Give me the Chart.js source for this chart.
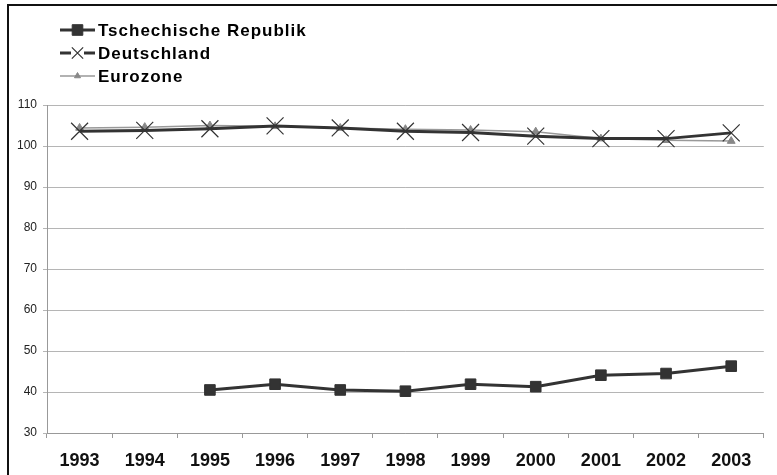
<!DOCTYPE html>
<html><head><meta charset="utf-8">
<script src="https://cdn.jsdelivr.net/npm/chart.js@4/dist/chart.umd.min.js"></script>
<style>html,body{margin:0;padding:0;background:#fff}#wrap{width:777px;height:475px;position:relative}canvas{display:block}</style>
</head><body><div id="wrap"><canvas id="c" width="777" height="475"></canvas></div>
<script>
const years = ['1993','1994','1995','1996','1997','1998','1999','2000','2001','2002','2003'];
const seriesNames = ['Tschechische Republik','Deutschland','Eurozone'];
const czech = [null,null,40.5,41.9,40.5,40.2,41.9,41.3,44.1,44.5,46.3];
const germany = [103.6,103.8,104.2,104.9,104.4,103.6,103.3,102.4,101.8,101.8,103.2];
const eurozone = [104.4,104.6,105.0,104.8,104.4,104.1,103.9,103.5,101.8,101.4,101.2];
const yMin = 30, yMax = 110, yStep = 10;

const FONT = 'Liberation Sans, Arial, Helvetica, sans-serif';

function drawMarker(ctx, style, x, y, r, color, fill, bw){
  ctx.save();
  ctx.strokeStyle = color; ctx.fillStyle = fill; ctx.lineWidth = bw;
  ctx.beginPath();
  if(style==='rect'){
    const s = Math.SQRT1_2*r;
    ctx.rect(x-s,y-s,2*s,2*s); ctx.fill(); ctx.stroke();
  } else if(style==='crossRot'){
    const o = Math.SQRT1_2*r;
    ctx.moveTo(x-o,y-o); ctx.lineTo(x+o,y+o);
    ctx.moveTo(x-o,y+o); ctx.lineTo(x+o,y-o); ctx.stroke();
  } else if(style==='triangle'){
    ctx.moveTo(x, y-r); ctx.lineTo(x+r*0.866, y+r*0.5); ctx.lineTo(x-r*0.866, y+r*0.5);
    ctx.closePath(); ctx.fill(); ctx.stroke();
  }
  ctx.restore();
}

const framePlugin = {
  id:'frame',
  beforeDraw(chart){
    const ctx = chart.ctx;
    ctx.save();
    ctx.fillStyle='#fff'; ctx.fillRect(0,0,chart.width,chart.height);
    ctx.strokeStyle='#111'; ctx.lineWidth=2;
    ctx.beginPath();
    ctx.moveTo(8,480); ctx.lineTo(8,5); ctx.lineTo(790,5);
    ctx.stroke();
    ctx.restore();
  },
  afterDraw(chart){
    const ctx = chart.ctx;
    const legendMarkers = [
      {r:7.5, style:'rect', bw:1},
      {r:8, style:'crossRot', bw:1.2},
      {r:3.5, style:'triangle', bw:1}
    ];
    chart.data.datasets.forEach((ds,i)=>{
      const y = 30 + 23*i;
      ctx.save();
      ctx.strokeStyle = ds.borderColor; ctx.lineWidth = ds.borderWidth;
      ctx.beginPath(); ctx.moveTo(60,y); ctx.lineTo(95,y); ctx.stroke();
      const m = legendMarkers[i];
      if(i===1){
        ctx.fillStyle='#fff'; ctx.fillRect(71,y-4,13,8);
      }
      drawMarker(ctx, m.style, 77.5, y, m.r, ds.pointBorderColor, ds.pointBackgroundColor, m.bw);
      ctx.fillStyle='#000'; ctx.font='bold 17px '+FONT;
      if('letterSpacing' in ctx) ctx.letterSpacing='1px';
      ctx.textBaseline='middle'; ctx.textAlign='left';
      ctx.fillText(ds.label, 98, y+1);
      ctx.restore();
    });
  }
};

new Chart(document.getElementById('c'), {
  type:'line',
  data:{
    labels: years,
    datasets:[
      {label:seriesNames[0], data:czech, borderColor:'#333', borderWidth:3,
       pointStyle:'rect', pointRadius:7.5, pointBackgroundColor:'#333', pointBorderColor:'#333', pointBorderWidth:1,
       spanGaps:false},
      {label:seriesNames[1], data:germany, borderColor:'#333', borderWidth:3,
       pointStyle:'crossRot', pointRadius:12, pointBackgroundColor:'#333', pointBorderColor:'#333', pointBorderWidth:1.2},
      {label:seriesNames[2], data:eurozone, borderColor:'#999', borderWidth:1.5,
       pointStyle:'triangle', pointRadius:4.5, pointBackgroundColor:'#888', pointBorderColor:'#888', pointBorderWidth:1}
    ]
  },
  options:{
    responsive:false, devicePixelRatio:1, animation:false,
    layout:{padding:{top:105, right:0, bottom:0, left:0}},
    plugins:{legend:{display:false}, tooltip:{enabled:false}},
    elements:{line:{tension:0}},
    scales:{
      x:{
        offset:true,
        grid:{display:true, drawOnChartArea:false, drawTicks:true, tickLength:5, color:'#999', offset:true},
        border:{display:true, color:'#999', width:1},
        ticks:{font:{family:FONT, size:18, weight:'bold'}, color:'#111', padding:12, maxRotation:0, autoSkip:false},
        afterFit(s){ s.height = 42; }
      },
      y:{
        min:yMin, max:yMax,
        grid:{color:'#b5b5b5', lineWidth:1, drawTicks:true, tickLength:4},
        border:{display:true, color:'#999', width:1},
        ticks:{stepSize:yStep, font:{family:FONT, size:12}, color:'#222', padding:6},
        afterFit(s){ s.width = 47; }
      }
    }
  },
  plugins:[framePlugin]
});
</script>
</body></html>
